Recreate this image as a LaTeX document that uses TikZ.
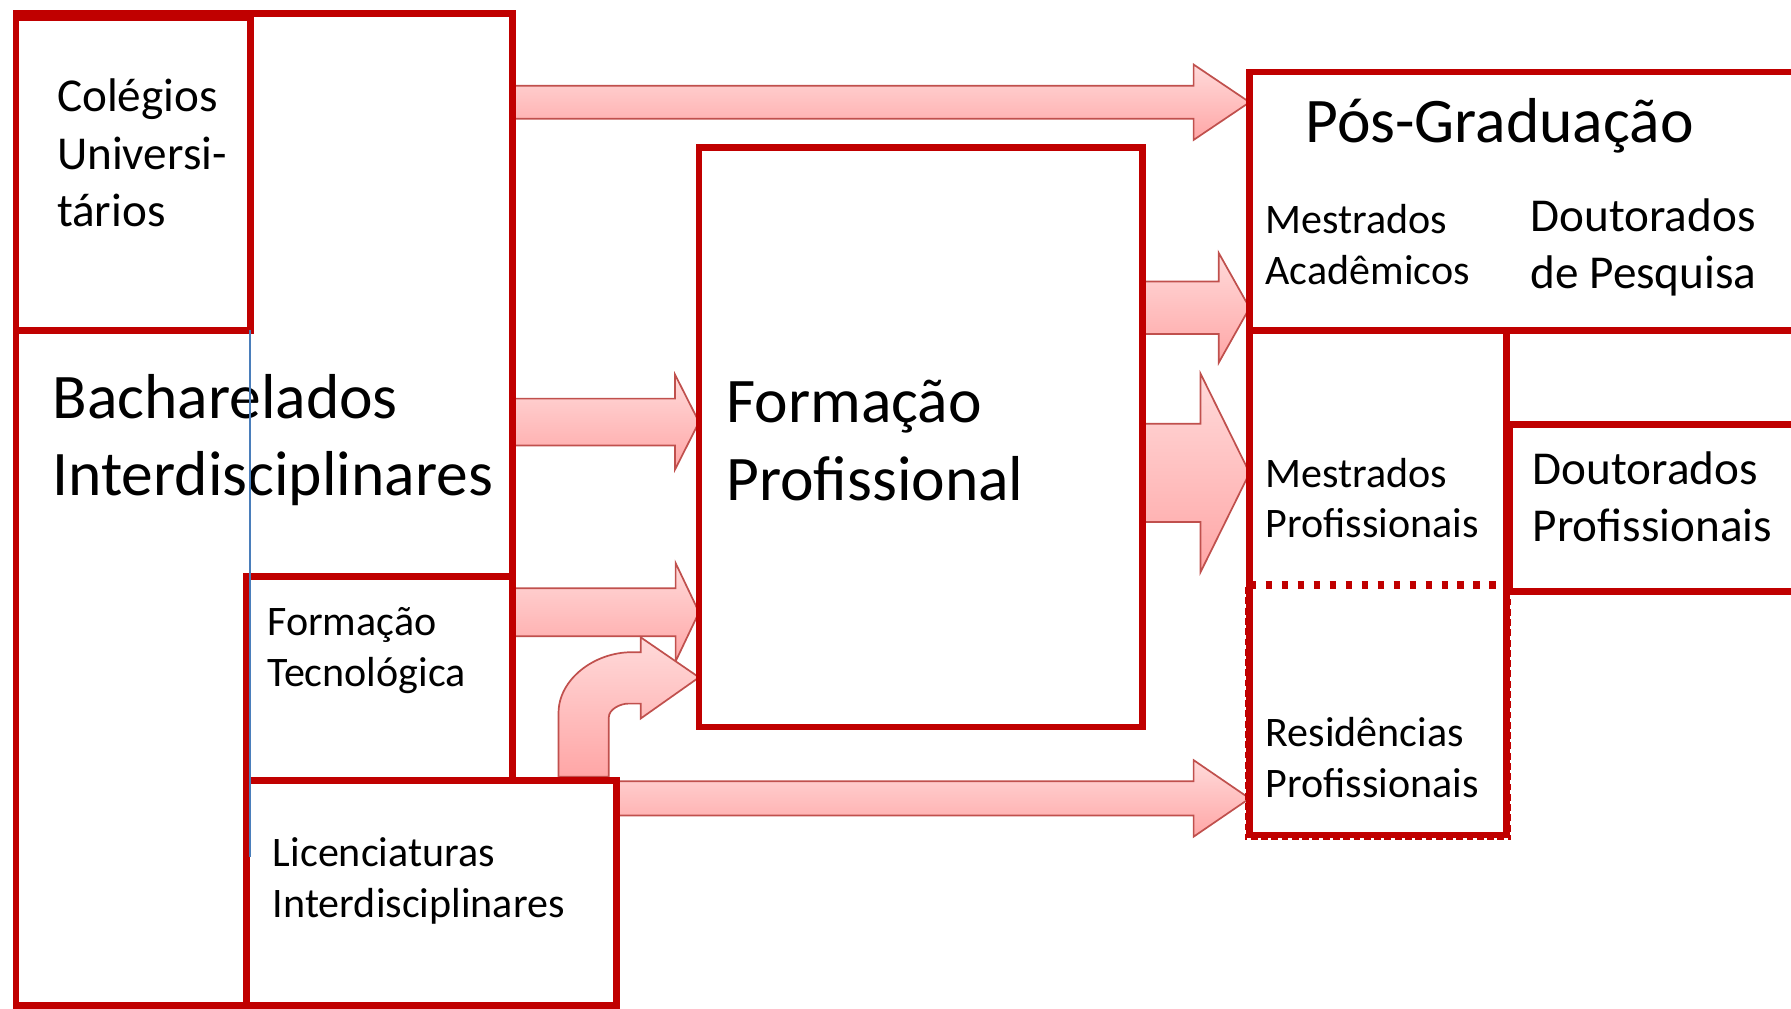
\documentclass[tikz,border=0pt]{standalone}
\usepackage{fontspec}
\setmainfont{Carlito}
\usetikzlibrary{calc,backgrounds}
\definecolor{boxred}{RGB}{192,0,0}
\definecolor{arrtop}{RGB}{255,218,218}
\definecolor{arrbot}{RGB}{255,166,166}
\definecolor{arredge}{RGB}{192,80,77}
\definecolor{guideblue}{RGB}{74,126,187}
\newcommand\blockarrow[5]{%
  \path[barrow] let \p1=(#1), \p2=(#2) in
    (\x1,\y1+#3) -- (\x2-#5,\y1+#3) -- (\x2-#5,\y1+#4) -- (\x2,\y1)
    -- (\x2-#5,\y1-#4) -- (\x2-#5,\y1-#3) -- (\x1,\y1-#3) -- cycle;}
\begin{document}
\begin{tikzpicture}[x=1pt,y=-1pt,
  box/.style={draw=boxred, line width=6pt, inner sep=0pt, outer sep=0pt, anchor=north west},
  area/.style={inner sep=0pt, outer sep=0pt, anchor=north west},
  barrow/.style={top color=arrtop, bottom color=arrbot, draw=arredge, line width=1.5pt, line join=miter},
  lbl/.style={anchor=base west, align=left, inner sep=0pt, outer sep=0pt},
  fBig/.style={font=\fontsize{55.6}{68}\selectfont},
  fMid/.style={font=\fontsize{36.8}{44.5}\selectfont},
  fLrg/.style={font=\fontsize{41.3}{50}\selectfont},
  dotline/.style={draw=boxred, line width=6.5pt, dash pattern=on 6pt off 8pt},
  thindash/.style={draw=boxred, line width=1.2pt, dash pattern=on 6pt off 3pt},
  guide/.style={draw=guideblue, line width=1.3pt}]
\useasboundingbox (0,0) rectangle (1568,883);
% boxes
\node[box, minimum width=435pt, minimum height=868pt] (BI) at (14,12) {};
\node[box, minimum width=205pt, minimum height=274pt] (CU) at (14,15) {};
\node[box, minimum width=233.5pt, minimum height=178pt] (FT) at (215.5,505) {};
\node[box, fill=white, minimum width=324.5pt, minimum height=197pt] (LI) at (215.5,683) {};
\node[box, minimum width=388pt, minimum height=507.5pt] (FP) at (612,129) {};
\node[box, minimum width=496pt, minimum height=226pt] (PG) at (1094,63) {};
\node[box, minimum width=225pt, minimum height=442pt] (MP) at (1094,289) {};
\node[area, minimum width=225pt, minimum height=219pt] (RP) at (1094,512) {};
\node[box, minimum width=268pt, minimum height=146pt] (DP) at (1322,372) {};
\draw[dotline] (RP.north west) -- (RP.north east);
\draw[thindash] ($(RP.north west)+(-3.5,2)$) |- ($(RP.south east)+(3.5,3.5)$) -- ($(RP.north east)+(3.5,2)$);
% arrows
\coordinate (a1s) at (BI.east |- 0,89.5);  \coordinate (a1e) at (PG.west |- 0,89.5);
\coordinate (a2s) at (BI.east |- 0,369.5); \coordinate (a2e) at (FP.west |- 0,369.5);
\coordinate (a3s) at (FT.east |- 0,536);   \coordinate (a3e) at (FP.west |- 0,536);
\coordinate (a5s) at (LI.east |- 0,699);   \coordinate (a5e) at (MP.west |- 0,699);
\coordinate (a6s) at (FP.east |- 0,269.5); \coordinate (a6e) at (PG.west |- 0,269.5);
\coordinate (a7s) at (FP.east |- 0,414);   \coordinate (a7e) at (MP.west |- 0,414);
\coordinate (a4s) at (511,0 |- LI.north);  \coordinate (a4e) at (FP.west |- 0,593);
\begin{pgfonlayer}{background}
\blockarrow{a1s}{a1e}{14.5}{33}{49}
\blockarrow{a2s}{a2e}{20.5}{41.5}{21}
\blockarrow{a3s}{a3e}{21}{43}{20.5}
\blockarrow{a5s}{a5e}{15}{33.5}{49}
\blockarrow{a6s}{a6e}{23}{48}{27}
\blockarrow{a7s}{a7e}{43}{87}{43}
\path[barrow] let \p1=(a4s), \p2=(a4e) in
  (\x1-22,\y1+3) -- (\x1-22,\y1+59)
  .. controls (\x1-22,\y1+88) and (\x2-92,\y2+22) .. (\x2-59,\y2+22)
  -- (\x2-51,\y2+22) -- (\x2-51,\y2+35) -- (\x2,\y2) -- (\x2-51,\y2-36) -- (\x2-51,\y2-23)
  -- (\x2-62,\y2-23) .. controls (\x2-69,\y2-23) and (\x1+22,\y1+62) .. (\x1+22,\y1+55)
  -- (\x1+22,\y1+3) -- cycle;
\end{pgfonlayer}
% texts (anchor = baseline of the last line)
\node[lbl,fLrg] (tCU) at (50,198) {Colégios\\Universi-\\tários};
\node[lbl,fBig] (tBI) at (46,434) {Bacharelados\\Interdisciplinares};
\node[lbl,fMid] (tFT) at (234,601) {Formação\\Tecnológica};
\node[lbl,fMid] (tLI) at (239,803) {Licenciaturas\\Interdisciplinares};
\node[lbl,fBig] (tFP) at (636,438) {Formação\\Profissional};
\node[lbl,fBig] (tPG) at (1143,125) {Pós-Graduação};
\node[lbl,fMid] (tMA) at (1108,249) {Mestrados\\Acadêmicos};
\node[lbl,fLrg] (tDQ) at (1340,253) {Doutorados\\de Pesquisa};
\node[lbl,fMid] (tMP) at (1108,471) {Mestrados\\Profissionais};
\node[lbl,fLrg] (tDP) at (1342,474) {Doutorados\\Profissionais};
\node[lbl,fMid] (tRP) at (1108,698) {Residências\\Profissionais};
\draw[guide] (CU.south east) -- (CU.south east |- 0,750);
\end{tikzpicture}
\end{document}
